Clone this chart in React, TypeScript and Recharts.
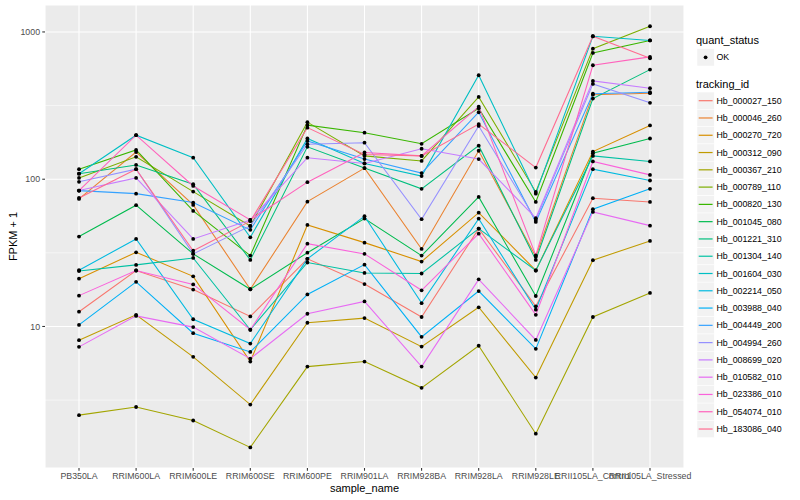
import React from 'react'
import { LineChart, Line, XAxis, YAxis, CartesianGrid, ReferenceLine } from 'recharts'

// samples on the x axis
const samples = [
  'PB350LA', 'RRIM600LA', 'RRIM600LE', 'RRIM600SE', 'RRIM600PE', 'RRIM901LA',
  'RRIM928BA', 'RRIM928LA', 'RRIM928LE', 'RRII105LA_Control', 'RRII105LA_Stressed',
]

// FPKM + 1 per tracking id, one value per sample
const hb_000027_150 = [12.6, 24.0, 17.8, 11.7, 28.8, 19.4, 11.6, 46.2, 13.7, 74.3, 70.1]
const hb_000046_260 = [73.5, 153, 66.9, 17.9, 70.4, 119, 33.6, 156, 29.8, 375, 384]
const hb_000270_720 = [21.1, 31.9, 21.9, 5.78, 48.9, 37.1, 27.6, 59.3, 24.0, 154, 232]
const hb_000312_090 = [8.07, 12.0, 6.22, 2.95, 10.6, 11.4, 7.3, 13.5, 4.5, 28.2, 38.1]
const hb_000367_210 = [2.5, 2.84, 2.3, 1.51, 5.34, 5.78, 3.83, 7.4, 1.87, 11.6, 16.9]
const hb_000789_110 = [102, 142, 82.4, 48.2, 244, 144, 133, 362, 82, 770, 1093]
const hb_000820_130 = [117, 158, 60.9, 30.3, 233, 207, 174, 303, 70.1, 720, 876]
const hb_001045_080 = [40.8, 66.6, 31.1, 17.9, 31.7, 54.0, 30.3, 75.8, 16.1, 150, 189]
const hb_001221_310 = [109, 125, 92.5, 28.3, 166, 119, 86, 169, 28.3, 353, 555]
const hb_001304_140 = [23.8, 26.2, 29.2, 9.5, 27.2, 23.1, 22.9, 46.2, 24.0, 144, 132]
const hb_001604_030 = [109, 199, 140, 40.3, 189, 128, 105, 508, 79.8, 935, 876]
const hb_002214_050 = [24.1, 39.3, 11.2, 7.65, 28.8, 56.1, 14.4, 54.0, 13.0, 117, 98]
const hb_003988_040 = [10.25, 20.1, 9.0, 6.72, 16.5, 26.3, 8.5, 17.4, 7.05, 62.6, 86]
const hb_004449_200 = [83.7, 79.8, 69.4, 45.3, 182, 137, 110, 285, 51.3, 381, 390]
const hb_004994_260 = [96, 117, 31.1, 48.2, 173, 177, 53.5, 230, 52.9, 444, 330]
const hb_008699_020 = [83.7, 102, 39.3, 52.9, 140, 128, 161, 137, 54.4, 465, 415]
const hb_010582_010 = [7.27, 11.8, 9.9, 6.05, 12.2, 14.8, 5.34, 20.9, 8.1, 60.0, 48.4]
const hb_023386_010 = [16.2, 24.0, 19.3, 9.5, 36.5, 31.1, 17.6, 42.7, 12.0, 132, 107]
const hb_054074_010 = [83.7, 199, 90, 52.9, 95.5, 152, 144, 311, 30.4, 594, 677]
const hb_183086_040 = [74.6, 117, 32.7, 51.9, 224, 147, 144, 237, 120, 935, 663]

const trackingIds = [
  'Hb_000027_150', 'Hb_000046_260', 'Hb_000270_720', 'Hb_000312_090', 'Hb_000367_210',
  'Hb_000789_110', 'Hb_000820_130', 'Hb_001045_080', 'Hb_001221_310', 'Hb_001304_140',
  'Hb_001604_030', 'Hb_002214_050', 'Hb_003988_040', 'Hb_004449_200', 'Hb_004994_260',
  'Hb_008699_020', 'Hb_010582_010', 'Hb_023386_010', 'Hb_054074_010', 'Hb_183086_040',
]

const seriesValues = [
  hb_000027_150, hb_000046_260, hb_000270_720, hb_000312_090, hb_000367_210,
  hb_000789_110, hb_000820_130, hb_001045_080, hb_001221_310, hb_001304_140,
  hb_001604_030, hb_002214_050, hb_003988_040, hb_004449_200, hb_004994_260,
  hb_008699_020, hb_010582_010, hb_023386_010, hb_054074_010, hb_183086_040,
]

// ggplot hue palette, 20 levels
const colors = [
  '#F8766D', '#EA8331', '#D89000', '#C09B00', '#A3A500', '#7CAE00', '#39B600', '#00BB4E',
  '#00BF7D', '#00C1A3', '#00BFC4', '#00BAE0', '#00B0F6', '#35A2FF', '#9590FF', '#C77CFF',
  '#E76BF3', '#FA62DB', '#FF62BC', '#FF6C91',
]

const yTicks = [10, 100, 1000]
const yMinor = [3.162, 31.62, 316.2]

const rows = samples.map((s, i) => {
  const row: Record<string, string | number> = { sample: s }
  trackingIds.forEach((id, k) => { row[id] = seriesValues[k][i] })
  return row
})

const FONT = '"Liberation Sans", Arial, Helvetica, sans-serif'

export default function App() {
  return (
    <div style={{ position: 'absolute', left: 0, top: 0, width: 800, height: 500, background: '#fff', fontFamily: FONT }}>
      <LineChart width={800} height={500} data={rows} margin={{ top: 5, right: 116, bottom: 0, left: 0 }}>
        <CartesianGrid fill="#EBEBEB" stroke="#FFFFFF" strokeWidth={1.07} />
        {yMinor.map(v => (
          <ReferenceLine key={v} y={v} stroke="#FFFFFF" strokeWidth={0.53} />
        ))}
        <XAxis
          dataKey="sample"
          interval={0}
          padding={{ left: 34, right: 34 }}
          height={32}
          tickSize={2.75}
          tickMargin={2.2}
          axisLine={false}
          tickLine={{ stroke: '#333333', strokeWidth: 1.07 }}
          tick={{ fontSize: 8.8, fill: '#4D4D4D', fontFamily: FONT }}
        />
        <YAxis
          type="number"
          scale="log"
          domain={[1.094, 1524]}
          allowDataOverflow
          ticks={yTicks}
          width={45}
          tickSize={2.75}
          tickMargin={2.2}
          axisLine={false}
          tickLine={{ stroke: '#333333', strokeWidth: 1.07 }}
          tick={{ fontSize: 8.8, fill: '#4D4D4D', fontFamily: FONT }}
        />
        {trackingIds.map((id, k) => (
          <Line
            key={id}
            type="linear"
            dataKey={id}
            stroke={colors[k]}
            strokeWidth={1.07}
            dot={false}
            activeDot={false}
            isAnimationActive={false}
          />
        ))}
        {/* black points drawn over every line */}
        {trackingIds.map(id => (
          <Line
            key={id + '_pt'}
            type="linear"
            dataKey={id}
            stroke="none"
            dot={{ r: 1.9, fill: '#000000', stroke: 'none' }}
            activeDot={false}
            legendType="none"
            isAnimationActive={false}
          />
        ))}
      </LineChart>

      <svg width={800} height={500} style={{ position: 'absolute', left: 0, top: 0, pointerEvents: 'none' }} fontFamily={FONT}>
        <text x={364.5} y={488} textAnchor="middle" dominantBaseline="central" fontSize={11} fill="#000">sample_name</text>
        <text transform="translate(13,236.5) rotate(-90)" textAnchor="middle" dominantBaseline="central" fontSize={11} fill="#000">FPKM + 1</text>

        <text x={696} y={40} dominantBaseline="central" fontSize={11} fill="#000">quant_status</text>
        <rect x={697} y={48.7} width={17.28} height={17.28} fill="#F2F2F2" stroke="#FFFFFF" strokeWidth={0.5} />
        <circle cx={705.6} cy={57.3} r={1.9} fill="#000" />
        <text x={716.5} y={57.3} dominantBaseline="central" fontSize={8.8} fill="#000">OK</text>

        <text x={696} y={84} dominantBaseline="central" fontSize={11} fill="#000">tracking_id</text>
        {trackingIds.map((id, k) => {
          const cy = 100.7 + k * 17.28
          return (
            <g key={id}>
              <rect x={697} y={cy - 8.64} width={17.28} height={17.28} fill="#F2F2F2" stroke="#FFFFFF" strokeWidth={0.5} />
              <line x1={698.7} x2={712.6} y1={cy} y2={cy} stroke={colors[k]} strokeWidth={1.2} />
              <text x={716.5} y={cy} dominantBaseline="central" fontSize={8.8} fill="#000">{id}</text>
            </g>
          )
        })}
      </svg>
    </div>
  )
}
